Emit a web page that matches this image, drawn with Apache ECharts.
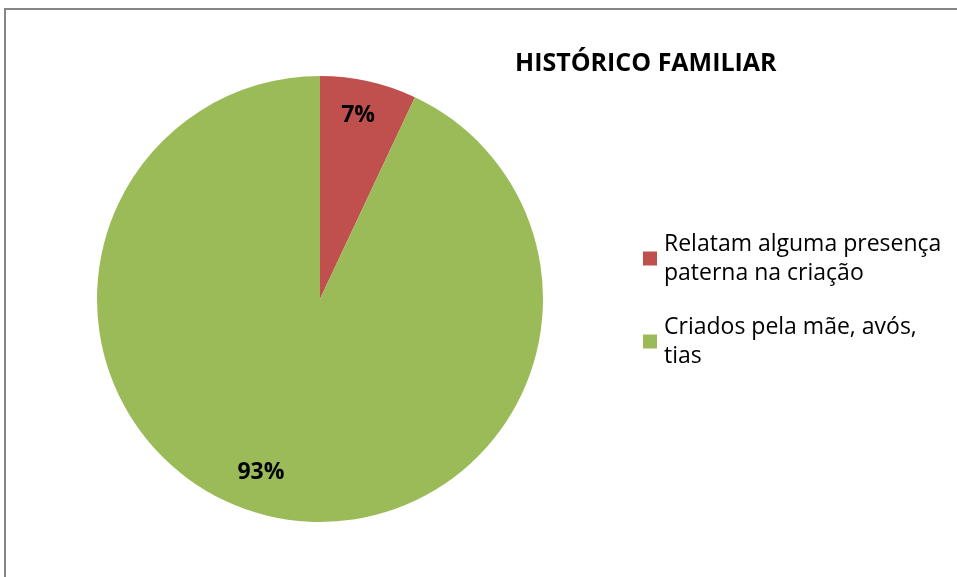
<!DOCTYPE html>
<html><head><meta charset="utf-8">
<script src="https://cdn.jsdelivr.net/npm/echarts@6/dist/echarts.min.js"></script>
<style>html,body{margin:0;padding:0;background:#fff}#c{width:957px;height:577px}</style>
</head><body><div id="c"></div>
<script>
const titleText = 'HISTÓRICO FAMILIAR';
const categories = ['Relatam alguma presença\npaterna na criação', 'Criados pela mãe, avós,\ntias'];
const values = [7, 93];
const colors = ['#C0504D', '#9BBB59'];
const font = 'Open Sans';

const chart = echarts.init(document.getElementById('c'));
const data = categories.map((n, i) => ({ name: n, value: values[i], itemStyle: { color: colors[i] } }));
const labelOffsets = [[-4, 5], [-17, -15]];
chart.setOption({
  animation: false,
  title: { text: titleText, left: 515, top: 51, padding: 0, textStyle: { fontFamily: font, fontWeight: 'bold', fontSize: 25, color: '#000' } },
  legend: {
    orient: 'vertical', left: 643, top: 215, padding: 0,
    itemWidth: 14, itemHeight: 14, itemGap: -4,
    icon: 'rect',
    textStyle: { fontFamily: font, fontSize: 23, color: '#000', lineHeight: 29, padding: [29, 0, 0, 2] },
    data: categories
  },
  graphic: [{ type: 'rect', shape: { x: 5, y: 9, width: 1000, height: 700 }, style: { fill: 'none', stroke: '#868686', lineWidth: 2 }, silent: true }],
  series: [
    {
      type: 'pie', center: [320, 299], radius: 223, startAngle: 90, clockwise: true,
      label: { show: false }, labelLine: { show: false }, data: data
    },
    {
      type: 'pie', center: [320, 299], radius: [160, 220], startAngle: 90, clockwise: true, silent: true,
      itemStyle: { color: 'rgba(0,0,0,0)' },
      label: { show: true, position: 'inside', formatter: '{c}%', fontFamily: font, fontWeight: 'bold', fontSize: 23, color: '#000' },
      labelLine: { show: false },
      data: categories.map((n, i) => ({ name: n, value: values[i], label: { offset: labelOffsets[i] } }))
    }
  ]
});
</script></body></html>
